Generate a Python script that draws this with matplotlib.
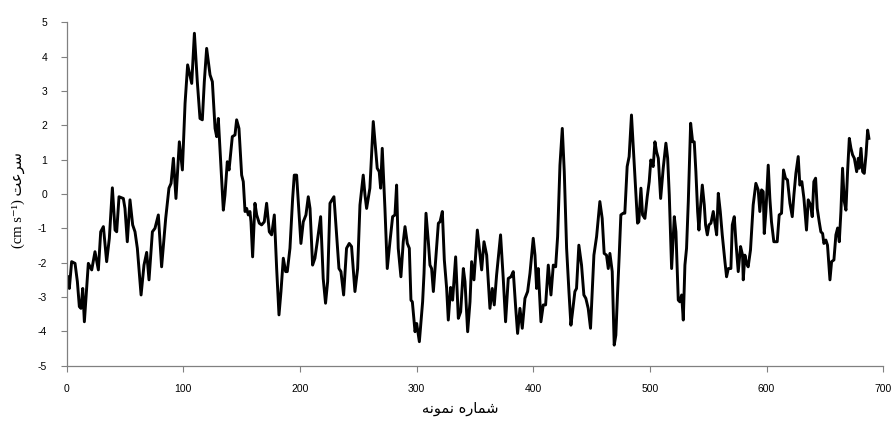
#!/usr/bin/env python3
# -*- coding: utf-8 -*-
"""
Line plot of a velocity record against sample number.
"""

import matplotlib
matplotlib.use('Agg')
import matplotlib.pyplot as plt

# sample number / velocity (cm s-1), turning points of the record
sample = [
    1.0, 2.4, 4.4, 7.3, 9.3, 11.0, 12.4, 13.9, 15.3, 18.7, 21.6, 24.4, 27.3,
    29.3, 31.6, 34.4, 36.7, 39.3, 41.6, 43.0, 45.0, 47.3, 48.7, 50.1, 52.1,
    54.4, 56.7, 58.7, 60.7, 63.9, 66.4, 68.7, 70.7,
    73.6, 75.8, 78.7, 81.5, 85.0, 87.8, 89.6, 91.6, 93.8, 96.7, 99.3, 101.6,
    103.8, 107.3, 109.6, 112.1, 114.4, 116.4, 118.1, 120.1, 123.0, 125.0,
    127.3, 128.7, 130.1, 132.4, 134.4, 135.8, 137.8, 139.3, 142.1,
    144.4, 145.8, 147.8, 150.1, 151.5, 153.0, 154.4, 155.8, 157.2, 158.1,
    159.5, 161.5, 163.0, 165.2, 167.2, 169.5, 171.5, 173.8, 175.8, 178.1,
    180.1, 182.1, 183.8, 185.8, 187.8, 189.2, 191.5, 193.8, 195.2, 197.2,
    199.2, 200.9, 202.9, 205.2, 207.2, 208.7, 210.9, 212.9, 214.9,
    217.8, 220.0, 222.0, 223.8, 225.8, 229.2, 231.5, 233.5, 235.2, 237.5,
    240.0, 242.3, 244.3, 247.2, 249.5, 251.5, 254.3, 255.8, 257.2, 260.0,
    262.9, 264.9, 266.3, 268.0, 269.2, 270.6, 272.9, 274.9, 277.2, 279.5,
    281.5, 282.9, 284.3, 286.6, 288.6,
    290.1, 292.1, 293.8, 295.2, 296.4, 298.7, 300.1, 302.4, 305.2, 306.4,
    308.1, 310.1, 311.5, 312.9, 314.4, 316.7, 318.7, 320.1, 322.1, 323.8,
    325.8, 327.2, 329.2, 330.9, 333.5, 335.8, 337.8, 340.1, 341.5, 343.8,
    345.8, 347.2, 349.2, 352.1, 353.8, 355.8, 357.8, 360.1,
    362.9, 364.9, 366.6, 368.6, 372.0, 374.3, 376.3, 378.6, 380.9, 382.9,
    384.9, 386.6, 388.6, 390.6, 392.9, 395.2, 397.2, 400.0, 401.5, 402.9,
    404.3, 406.6, 408.6, 410.6, 412.9, 415.2, 417.2, 419.2, 420.9, 422.9,
    424.9, 426.6, 428.6, 430.6, 432.3,
    433.7, 435.7, 437.1, 439.1, 441.4, 443.4, 445.1, 447.1, 449.1, 452.0,
    454.3, 457.1, 459.1, 460.8, 462.8, 464.3, 465.7, 467.7, 469.4, 470.8,
    472.2, 473.7, 475.1, 477.1, 478.5, 480.5, 482.2, 484.2, 486.3, 487.7,
    489.4, 490.5, 492.3, 493.7, 495.7, 497.7, 499.4, 500.8, 502.8, 504.3,
    505.7, 507.2, 509.2, 511.4, 513.7, 515.2, 516.6, 518.6, 520.9, 522.3,
    524.3, 525.7, 527.2, 528.6, 530.0, 531.4, 532.9, 534.9, 536.6, 538.0,
    539.4, 540.9, 542.0, 543.4, 544.9, 546.6, 547.7, 549.2, 550.6, 552.3,
    554.3, 555.7, 557.2, 558.6, 560.3, 562.0, 564.3, 565.7, 567.2, 569.4,
    570.6, 572.3, 573.7, 575.7, 577.7, 579.4,
    580.0, 581.4, 582.8, 584.2, 586.2, 588.5, 590.8, 592.8, 594.2, 595.7,
    597.1, 598.0, 599.4, 601.4, 602.8, 604.2, 606.2, 609.1, 610.8, 612.8,
    614.5, 616.2, 617.9, 620.0, 622.0, 623.4, 625.1, 627.1, 628.5, 630.2,
    632.0, 634.2, 635.7, 637.7, 639.1, 640.5, 642.0, 643.4, 645.1, 646.5,
    648.0, 649.1, 650.8, 652.2,
    654.3, 655.7, 657.7, 659.4, 660.9, 662.3, 663.7, 665.1, 666.6, 668.0,
    669.4, 670.9, 672.3, 673.7, 675.2, 677.2, 678.6, 679.4, 680.9, 682.3,
    683.7, 685.2, 686.6, 687.7,
]
velocity = [
    -2.41, -2.75, -1.97, -2.02, -2.55, -3.28, -3.33, -2.75, -3.72, -2.02,
    -2.21, -1.68, -2.21, -1.10, -0.95, -1.97, -1.29, 0.18, -1.05, -1.10,
    -0.08, -0.11, -0.13, -0.42, -1.39, -0.17, -0.90, -1.10, -1.58, -2.94,
    -2.07, -1.70, -2.50,
    -1.10, -1.00, -0.61, -2.12, -0.71, 0.17, 0.31, 1.04, -0.13, 1.52, 0.70,
    2.64, 3.76, 3.22, 4.68, 3.27, 2.20, 2.16, 3.27, 4.24, 3.47, 3.27, 1.91,
    1.67, 2.20, 0.75, -0.47, -0.03, 0.94, 0.70, 1.67,
    1.72, 2.16, 1.91, 0.55, 0.36, -0.51, -0.42, -0.61, -0.51, -0.81, -1.83,
    -0.27, -0.61, -0.85, -0.90, -0.81, -0.27, -1.10, -1.19, -0.61, -2.17,
    -3.52, -2.84, -1.87, -2.26, -2.26, -1.58, -0.13, 0.55, 0.55, -0.51,
    -1.44, -0.81, -0.61, -0.08, -0.42, -2.07, -1.87, -1.39,
    -0.66, -2.46, -3.18, -2.55, -0.27, -0.08, -1.19, -2.17, -2.26, -2.94,
    -1.58, -1.44, -1.53, -2.84, -2.17, -0.32, 0.55, -0.03, -0.42, 0.17,
    2.11, 1.33, 0.75, 0.65, 0.17, 1.33, -0.42, -2.17, -1.39, -0.66, -0.61,
    0.26, -1.58, -2.41, -1.39,
    -0.95, -1.44, -1.58, -3.09, -3.14, -4.01, -3.77, -4.30, -3.14, -2.31,
    -0.56, -1.39, -2.07, -2.17, -2.84, -1.78, -0.85, -0.81, -0.51, -1.92,
    -2.75, -3.67, -2.72, -3.09, -1.83, -3.62, -3.43, -2.17, -2.55, -4.01,
    -3.14, -1.97, -2.50, -1.05, -1.58, -2.21, -1.39, -1.78,
    -3.33, -2.75, -3.23, -2.36, -1.19, -2.46, -3.72, -2.46, -2.41, -2.26,
    -3.28, -4.06, -3.33, -3.91, -3.04, -2.84, -2.31, -1.29, -1.78, -2.75,
    -2.17, -3.72, -3.23, -3.23, -2.07, -2.94, -2.07, -2.12, -1.24, 0.84,
    1.91, 0.65, -1.58, -2.84, -3.82,
    -3.43, -2.84, -2.75, -1.49, -2.07, -2.94, -3.04, -3.33, -3.91, -1.78,
    -1.24, -0.22, -0.71, -1.73, -1.78, -2.17, -1.73, -2.26, -4.40, -4.11,
    -2.94, -1.78, -0.61, -0.56, -0.56, 0.80, 1.09, 2.30, 1.04, 0.17,
    -0.85, -0.81, 0.17, -0.61, -0.71, -0.08, 0.36, 0.99, 0.80, 1.52,
    1.23, 1.04, -0.13, 0.75, 1.48, 1.04, -0.03, -2.17, -0.66, -1.10,
    -3.09, -3.14, -2.94, -3.67, -2.07, -1.58, -0.22, 2.06, 1.52, 1.52,
    0.65, -0.51, -1.05, -0.37, 0.26, -0.32, -0.90, -1.19, -0.90, -0.85,
    -0.51, -0.85, -1.19, 0.02, -0.51, -1.19, -1.97, -2.41, -2.17, -2.17,
    -0.90, -0.66, -1.39, -2.26, -1.53, -1.78,
    -2.50, -1.78, -2.02, -2.12, -1.63, -0.32, 0.31, 0.12, -0.51, 0.12,
    0.07, -1.15, -0.51, 0.84, -0.13, -0.81, -1.39, -1.39, -0.61, -0.56,
    0.70, 0.46, 0.41, -0.27, -0.66, -0.03, 0.60, 1.09, 0.26, 0.36,
    -0.13, -1.05, -0.17, -0.32, -0.66, 0.36, 0.46, -0.42, -0.81, -1.10,
    -1.15, -1.44, -1.34, -1.49,
    -2.50, -1.97, -1.92, -1.19, -0.99, -1.39, -0.51, 0.75, -0.22, -0.47,
    0.65, 1.62, 1.33, 1.14, 1.04, 0.65, 1.04, 0.75, 1.33, 0.65,
    0.60, 1.14, 1.86, 1.62,
]

x_ticks = [0, 100, 200, 300, 400, 500, 600, 700]
y_ticks = [-5, -4, -3, -2, -1, 0, 1, 2, 3, 4, 5]
x_label = 'شماره نمونه'
y_label_fa = 'سرعت'

# no text shaping in matplotlib, so map Persian letters to their
# presentation forms: (isolated, final, initial, medial)
FORMS = {
    'ا': ('\uFE8D', '\uFE8E', '\uFE8D', '\uFE8E'),
    'ت': ('\uFE95', '\uFE96', '\uFE97', '\uFE98'),
    'ر': ('\uFEAD', '\uFEAE', '\uFEAD', '\uFEAE'),
    'س': ('\uFEB1', '\uFEB2', '\uFEB3', '\uFEB4'),
    'ش': ('\uFEB5', '\uFEB6', '\uFEB7', '\uFEB8'),
    'ع': ('\uFEC9', '\uFECA', '\uFECB', '\uFECC'),
    'م': ('\uFEE1', '\uFEE2', '\uFEE3', '\uFEE4'),
    'ن': ('\uFEE5', '\uFEE6', '\uFEE7', '\uFEE8'),
    'ه': ('\uFEE9', '\uFEEA', '\uFEEB', '\uFEEC'),
    'و': ('\uFEED', '\uFEEE', '\uFEED', '\uFEEE'),
}
NO_LEFT_JOIN = set('ارو')


def shape_rtl(text):
    """
    Returns the text in joined presentation forms, in visual order
    """
    out = []
    for i, ch in enumerate(text):
        if ch not in FORMS:
            out.append(ch)
            continue
        prev = text[i - 1] if i > 0 else ''
        nxt = text[i + 1] if i + 1 < len(text) else ''
        join_prev = prev in FORMS and prev not in NO_LEFT_JOIN
        join_next = nxt in FORMS and ch not in NO_LEFT_JOIN
        iso, fin, ini, med = FORMS[ch]
        if join_prev and join_next:
            out.append(med)
        elif join_prev:
            out.append(fin)
        elif join_next:
            out.append(ini)
        else:
            out.append(iso)
    return ''.join(reversed(out))


figure = plt.figure(figsize=(8.94, 4.26), dpi=100)
axes = figure.add_axes([0.0744, 0.1415, 0.9136, 0.8062])
axes.plot(sample, velocity, color='black', linewidth=2.1,
          solid_joinstyle='round')

axes.set_xlim(0, 700)
axes.set_ylim(-5, 5)
axes.set_xticks(x_ticks)
axes.set_yticks(y_ticks)
axes.set_xticklabels([str(v) for v in x_ticks], family='Liberation Sans',
                     fontsize=7.5)
axes.set_yticklabels([str(v) for v in y_ticks], family='Liberation Sans',
                     fontsize=7.5)
axes.tick_params(axis='both', direction='out', length=4, width=0.8,
                 color='#808080')
axes.tick_params(axis='y', pad=10)
axes.tick_params(axis='x', pad=9)
for side in ('top', 'right'):
    axes.spines[side].set_visible(False)
for side in ('left', 'bottom'):
    axes.spines[side].set_color('#808080')
    axes.spines[side].set_linewidth(0.9)

figure.text(0.5145, 0.040, shape_rtl(x_label), ha='center', va='center',
            fontsize=10.5, family=['DejaVu Sans'])
figure.text(0.02, 0.53, '(cm s⁻¹) ' + shape_rtl(y_label_fa),
            rotation=90, ha='center', va='center', fontsize=10.5,
            family=['Liberation Serif', 'DejaVu Sans'])

figure.savefig('out.png', dpi=100)
plt.close(figure)
